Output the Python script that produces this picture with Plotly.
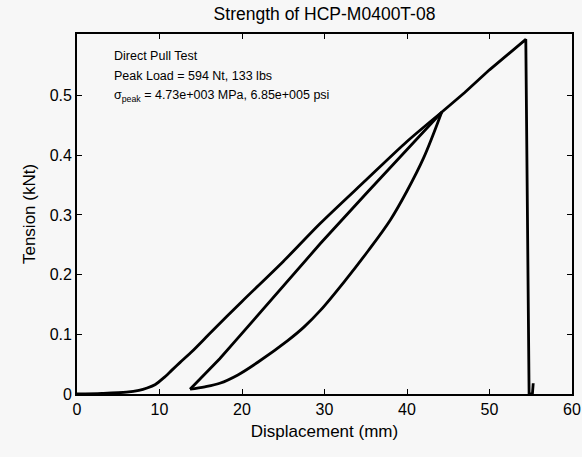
import plotly.graph_objects as go

# first loading up to the unload point
load_x = [0, 3, 6, 7.5, 8.5, 9.5, 10.5, 11.5, 12.5, 14, 16, 20, 25, 29.5, 35, 40, 44.2]
load_y = [0, 0.001, 0.003, 0.006, 0.010, 0.016, 0.027, 0.040, 0.053, 0.072, 0.100,
          0.155, 0.222, 0.286, 0.358, 0.423, 0.472]

# unloading branch (lower curve)
unload_x = [44.2, 42, 40, 38, 35.3, 32.5, 29.5, 27.5, 25.5, 22, 19.5, 17.3, 15.5, 13.7]
unload_y = [0.472, 0.395, 0.34, 0.292, 0.240, 0.190, 0.140, 0.112, 0.089, 0.054, 0.032,
            0.018, 0.012, 0.008]

# reloading through to failure
reload_x = [13.7, 15, 17.3, 19.2, 24, 29.5, 35, 40, 44.2, 47, 50, 54.4, 54.8, 55.2, 55.3]
reload_y = [0.008, 0.027, 0.059, 0.089, 0.165, 0.252, 0.335, 0.41, 0.472, 0.505, 0.543,
            0.594, 0.0, 0.0, 0.018]

font = "Arial, Liberation Sans, Helvetica, sans-serif"
line = dict(color='black', width=2.8)

fig = go.Figure()
fig.add_scatter(x=load_x, y=load_y, mode='lines', line=dict(shape='spline', smoothing=0.8, **line),
                showlegend=False)
fig.add_scatter(x=unload_x, y=unload_y, mode='lines', line=dict(shape='spline', smoothing=1, **line),
                showlegend=False)
fig.add_scatter(x=reload_x, y=reload_y, mode='lines', line=line, showlegend=False)

axis_style = dict(showline=True, linecolor='black', linewidth=1.8, mirror='ticks',
                  ticks='inside', ticklen=5, tickcolor='black', tickwidth=1.2, showgrid=False,
                  zeroline=False, automargin=False, tickfont=dict(size=16, color='black'))

fig.update_xaxes(range=[0, 60], tickvals=[0, 10, 20, 30, 40, 50, 60],
                 title=dict(text='Displacement (mm)', font=dict(size=17, color='black'), standoff=8),
                 **axis_style)
fig.update_yaxes(range=[0, 0.603], tickvals=[0, 0.1, 0.2, 0.3, 0.4, 0.5],
                 ticktext=['0', '0.1', '0.2', '0.3', '0.4', '0.5'],
                 title=dict(text='Tension (kNt)', font=dict(size=17, color='black'), standoff=10),
                 **axis_style)

notes = ['Direct Pull Test', 'Peak Load = 594 Nt, 133 lbs',
         'σ<sub>peak</sub> = 4.73e+003 MPa, 6.85e+005 psi']
note_y = [0.566, 0.533, 0.499]
for t, ty in zip(notes, note_y):
    fig.add_annotation(x=4.3, y=ty, text=t, showarrow=False, xanchor='left', yanchor='middle',
                       font=dict(size=12.5, color='black'))

fig.update_layout(
    width=582, height=457,
    margin=dict(l=77, r=10, t=34, b=63),
    paper_bgcolor='#f7f7f7', plot_bgcolor='#f7f7f7',
    font=dict(family=font, color='black'),
    title=dict(text='Strength of HCP-M0400T-08', x=0.5, xref='paper', xanchor='center',
               y=1 - 14 / 457, yanchor='middle', font=dict(size=17.5, color='black')),
)

# drop the page's default body margin so the figure sits at the window's corner
fig.write_html("out.html", config={'displayModeBar': False},
               post_script="document.body.style.margin='0';")
